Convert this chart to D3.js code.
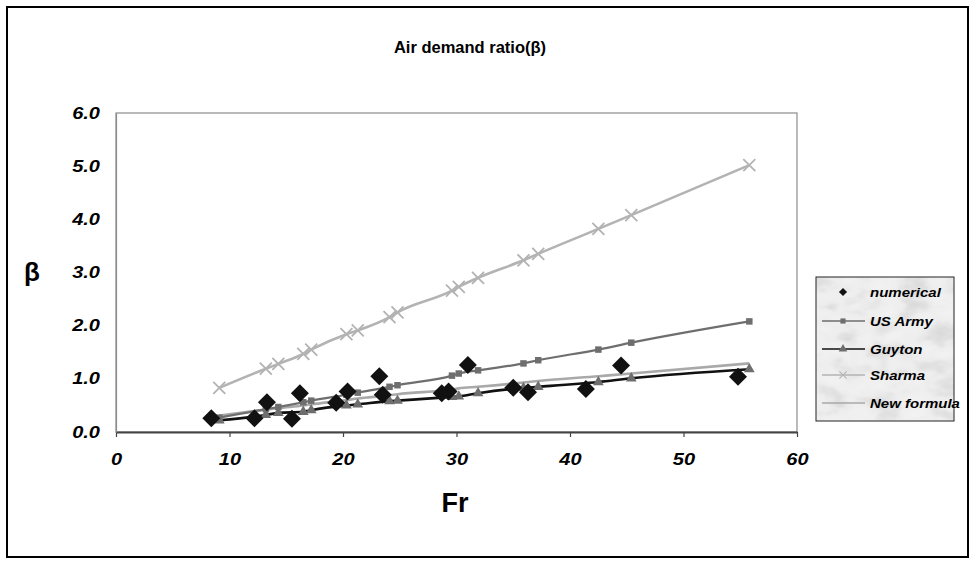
<!DOCTYPE html>
<html>
<head>
  <meta charset="utf-8" />
  <script src="https://d3js.org/d3.v7.min.js"></script>
  <style>
    body { margin: 0; background: white; font-family: "Liberation Sans", Arial, sans-serif; }
    .tick text { font-weight: bold; font-style: italic; font-size: 16px; fill: #000; }
  </style>
</head>
<body>
  <svg id="chart" width="976" height="565"></svg>
  <script>
    // values
    const numericalFr = [8.4, 12.2, 13.3, 15.5, 16.2, 19.4, 20.4, 23.2, 23.5, 28.7, 29.3, 31.0, 35.0, 36.3, 41.4, 44.5, 54.8];
    const numericalBeta = [0.26, 0.26, 0.56, 0.25, 0.73, 0.55, 0.76, 1.05, 0.70, 0.73, 0.76, 1.26, 0.83, 0.75, 0.81, 1.25, 1.04];

    const formulaFr = [9.1, 13.2, 14.3, 16.5, 17.2, 20.3, 21.3, 24.1, 24.8, 29.6, 30.2, 31.9, 35.9, 37.2, 42.5, 45.4, 55.8];
    const usArmy = [0.27, 0.43, 0.47, 0.56, 0.59, 0.70, 0.74, 0.85, 0.88, 1.06, 1.10, 1.16, 1.29, 1.35, 1.55, 1.68, 2.08];
    const guyton = [0.22, 0.32, 0.36, 0.38, 0.41, 0.50, 0.52, 0.58, 0.59, 0.66, 0.67, 0.73, 0.83, 0.85, 0.94, 1.01, 1.18];
    const sharma = [0.83, 1.19, 1.28, 1.47, 1.55, 1.84, 1.91, 2.16, 2.25, 2.66, 2.73, 2.90, 3.23, 3.35, 3.82, 4.08, 5.02];
    const newFormula = [0.31, 0.42, 0.45, 0.50, 0.52, 0.60, 0.63, 0.69, 0.71, 0.80, 0.82, 0.85, 0.93, 0.96, 1.05, 1.10, 1.29];

    const xTicks = [0, 10, 20, 30, 40, 50, 60];
    const yTicks = [0, 1, 2, 3, 4, 5, 6];

    const svg = d3.select("#chart");
    const margin = { top: 113, right: 179, bottom: 133, left: 116 };
    const plotW = 976 - margin.left - margin.right;
    const plotH = 565 - margin.top - margin.bottom;
    const stretch = 1.25; // the source picture has wide lettering

    // outer frame
    svg.append("rect")
      .attr("x", 7).attr("y", 7).attr("width", 961).attr("height", 550)
      .attr("fill", "white").attr("stroke", "#000").attr("stroke-width", 2);

    svg.append("text")
      .attr("x", 470).attr("y", 53)
      .attr("text-anchor", "middle")
      .style("font-weight", "bold").style("font-size", "16.5px")
      .text("Air demand ratio(β)");

    const g = svg.append("g").attr("transform", "translate(" + margin.left + "," + margin.top + ")");

    const x = d3.scaleLinear().domain([0, 60]).range([0, plotW]);
    const y = d3.scaleLinear().domain([0, 6]).range([plotH, 0]);

    // plot area border
    g.append("rect")
      .attr("width", plotW).attr("height", plotH)
      .attr("fill", "white").attr("stroke", "#8c8c8c").attr("stroke-width", 1.2);

    const xAxis = g.append("g")
      .attr("transform", "translate(0," + plotH + ")")
      .call(d3.axisBottom(x).tickValues(xTicks).tickSize(5).tickSizeOuter(0).tickPadding(17));
    xAxis.select(".domain").attr("stroke", "#444").attr("stroke-width", 2.2);
    xAxis.selectAll(".tick line").attr("stroke", "#444").attr("stroke-width", 1.2);
    xAxis.selectAll(".tick text").attr("transform", "scale(" + stretch + ",1)");

    const yAxis = g.append("g")
      .call(d3.axisLeft(y).tickValues(yTicks).tickSize(0).tickPadding(16).tickFormat(d3.format(".1f")));
    yAxis.select(".domain").attr("stroke", "#8c8c8c").attr("stroke-width", 1.2);
    yAxis.selectAll(".tick text").attr("x", -16 / stretch).attr("transform", "scale(" + stretch + ",1)");

    svg.append("text")
      .attr("x", 32).attr("y", 281)
      .attr("text-anchor", "middle")
      .style("font-weight", "bold").style("font-size", "26px")
      .text("β");

    svg.append("text")
      .attr("x", 455).attr("y", 512)
      .attr("text-anchor", "middle")
      .style("font-weight", "bold").style("font-size", "27px")
      .text("Fr");

    const series = [
      { name: "New formula", values: newFormula, color: "#a9a9a9", width: 2.6, marker: null },
      { name: "Sharma", values: sharma, color: "#b3b3b3", width: 2.6, marker: "x" },
      { name: "US Army", values: usArmy, color: "#6e6e6e", width: 2.2, marker: "square" },
      { name: "Guyton", values: guyton, color: "#111111", width: 2.6, marker: "triangle", markerColor: "#6e6e6e" }
    ];

    const line = d3.line()
      .x((d, i) => x(formulaFr[i]))
      .y(d => y(d))
      .curve(d3.curveMonotoneX);

    series.forEach(s => {
      g.append("path").datum(s.values)
        .attr("fill", "none")
        .attr("stroke", s.color)
        .attr("stroke-width", s.width)
        .attr("d", line);
    });

    function drawMarker(sel, type, color) {
      if (type === "square") {
        sel.append("path").attr("d", d3.symbol(d3.symbolSquare, 42)()).attr("fill", color);
      } else if (type === "triangle") {
        sel.append("path").attr("d", d3.symbol(d3.symbolTriangle, 50)()).attr("fill", color);
      } else if (type === "x") {
        sel.append("path").attr("d", "M-6,-6L6,6M-6,6L6,-6").attr("stroke", color).attr("stroke-width", 1.8).attr("fill", "none");
      } else if (type === "diamond") {
        sel.append("path").attr("d", "M0,-9L9,0L0,9L-9,0Z").attr("fill", color);
      }
    }

    series.filter(s => s.marker).forEach(s => {
      g.append("g").selectAll("g").data(s.values).join("g")
        .attr("transform", (d, i) => "translate(" + x(formulaFr[i]) + "," + y(d) + ")")
        .each(function () { drawMarker(d3.select(this), s.marker, s.markerColor || s.color); });
    });

    g.append("g").selectAll("g").data(numericalBeta).join("g")
      .attr("transform", (d, i) => "translate(" + x(numericalFr[i]) + "," + y(d) + ")")
      .each(function () { drawMarker(d3.select(this), "diamond", "#111"); });

    // legend with a marbled background
    const defs = svg.append("defs");
    const filt = defs.append("filter").attr("id", "marble").attr("x", 0).attr("y", 0).attr("width", 1).attr("height", 1);
    filt.append("feTurbulence").attr("type", "fractalNoise").attr("baseFrequency", "0.035 0.06").attr("numOctaves", 3).attr("seed", 4).attr("result", "noise");
    filt.append("feColorMatrix").attr("in", "noise").attr("type", "matrix")
      .attr("values", "0 0 0 0 0.93  0 0 0 0 0.93  0 0 0 0 0.93  -1.1 0 0 0 0.75")
      .attr("result", "light");
    filt.append("feColorMatrix").attr("in", "noise").attr("type", "matrix")
      .attr("values", "0 0 0 0 0.62  0 0 0 0 0.62  0 0 0 0 0.62  1.6 0 0 0 -0.75")
      .attr("result", "dark");
    filt.append("feFlood").attr("flood-color", "#ebebeb").attr("result", "bg");
    const merge = filt.append("feMerge");
    merge.append("feMergeNode").attr("in", "bg");
    merge.append("feMergeNode").attr("in", "dark");
    merge.append("feMergeNode").attr("in", "light");

    const legend = svg.append("g").attr("transform", "translate(816,277)");
    legend.append("rect").attr("width", 138).attr("height", 144)
      .attr("fill", "#ebebeb").attr("filter", "url(#marble)");
    legend.append("rect").attr("width", 138).attr("height", 144)
      .attr("fill", "none").attr("stroke", "#222").attr("stroke-width", 1);

    const legendItems = [
      { name: "numerical", color: "#111", line: false, marker: "diamond" },
      { name: "US Army", color: "#6e6e6e", line: true, marker: "square" },
      { name: "Guyton", color: "#111", line: true, marker: "triangle", markerColor: "#6e6e6e" },
      { name: "Sharma", color: "#b3b3b3", line: true, marker: "x" },
      { name: "New formula", color: "#a9a9a9", line: true, marker: null }
    ];
    const rowY = [15, 44, 72, 98, 126];

    legendItems.forEach((it, i) => {
      const row = legend.append("g").attr("transform", "translate(0," + rowY[i] + ")");
      if (it.line) {
        row.append("line").attr("x1", 6).attr("x2", 49).attr("stroke", it.color).attr("stroke-width", 1.6);
      }
      if (it.marker) {
        const m = row.append("g").attr("transform", "translate(27,0)" + (it.marker === "diamond" ? " scale(0.45)" : it.marker === "x" ? " scale(0.6)" : " scale(0.8)"));
        drawMarker(m, it.marker, it.markerColor || it.color);
      }
      row.append("text").attr("x", 54 / 1.2).attr("y", 4.5)
        .attr("transform", "scale(1.2,1)")
        .style("font-weight", "bold").style("font-style", "italic").style("font-size", "12.5px")
        .text(it.name);
    });
  </script>
</body>
</html>
